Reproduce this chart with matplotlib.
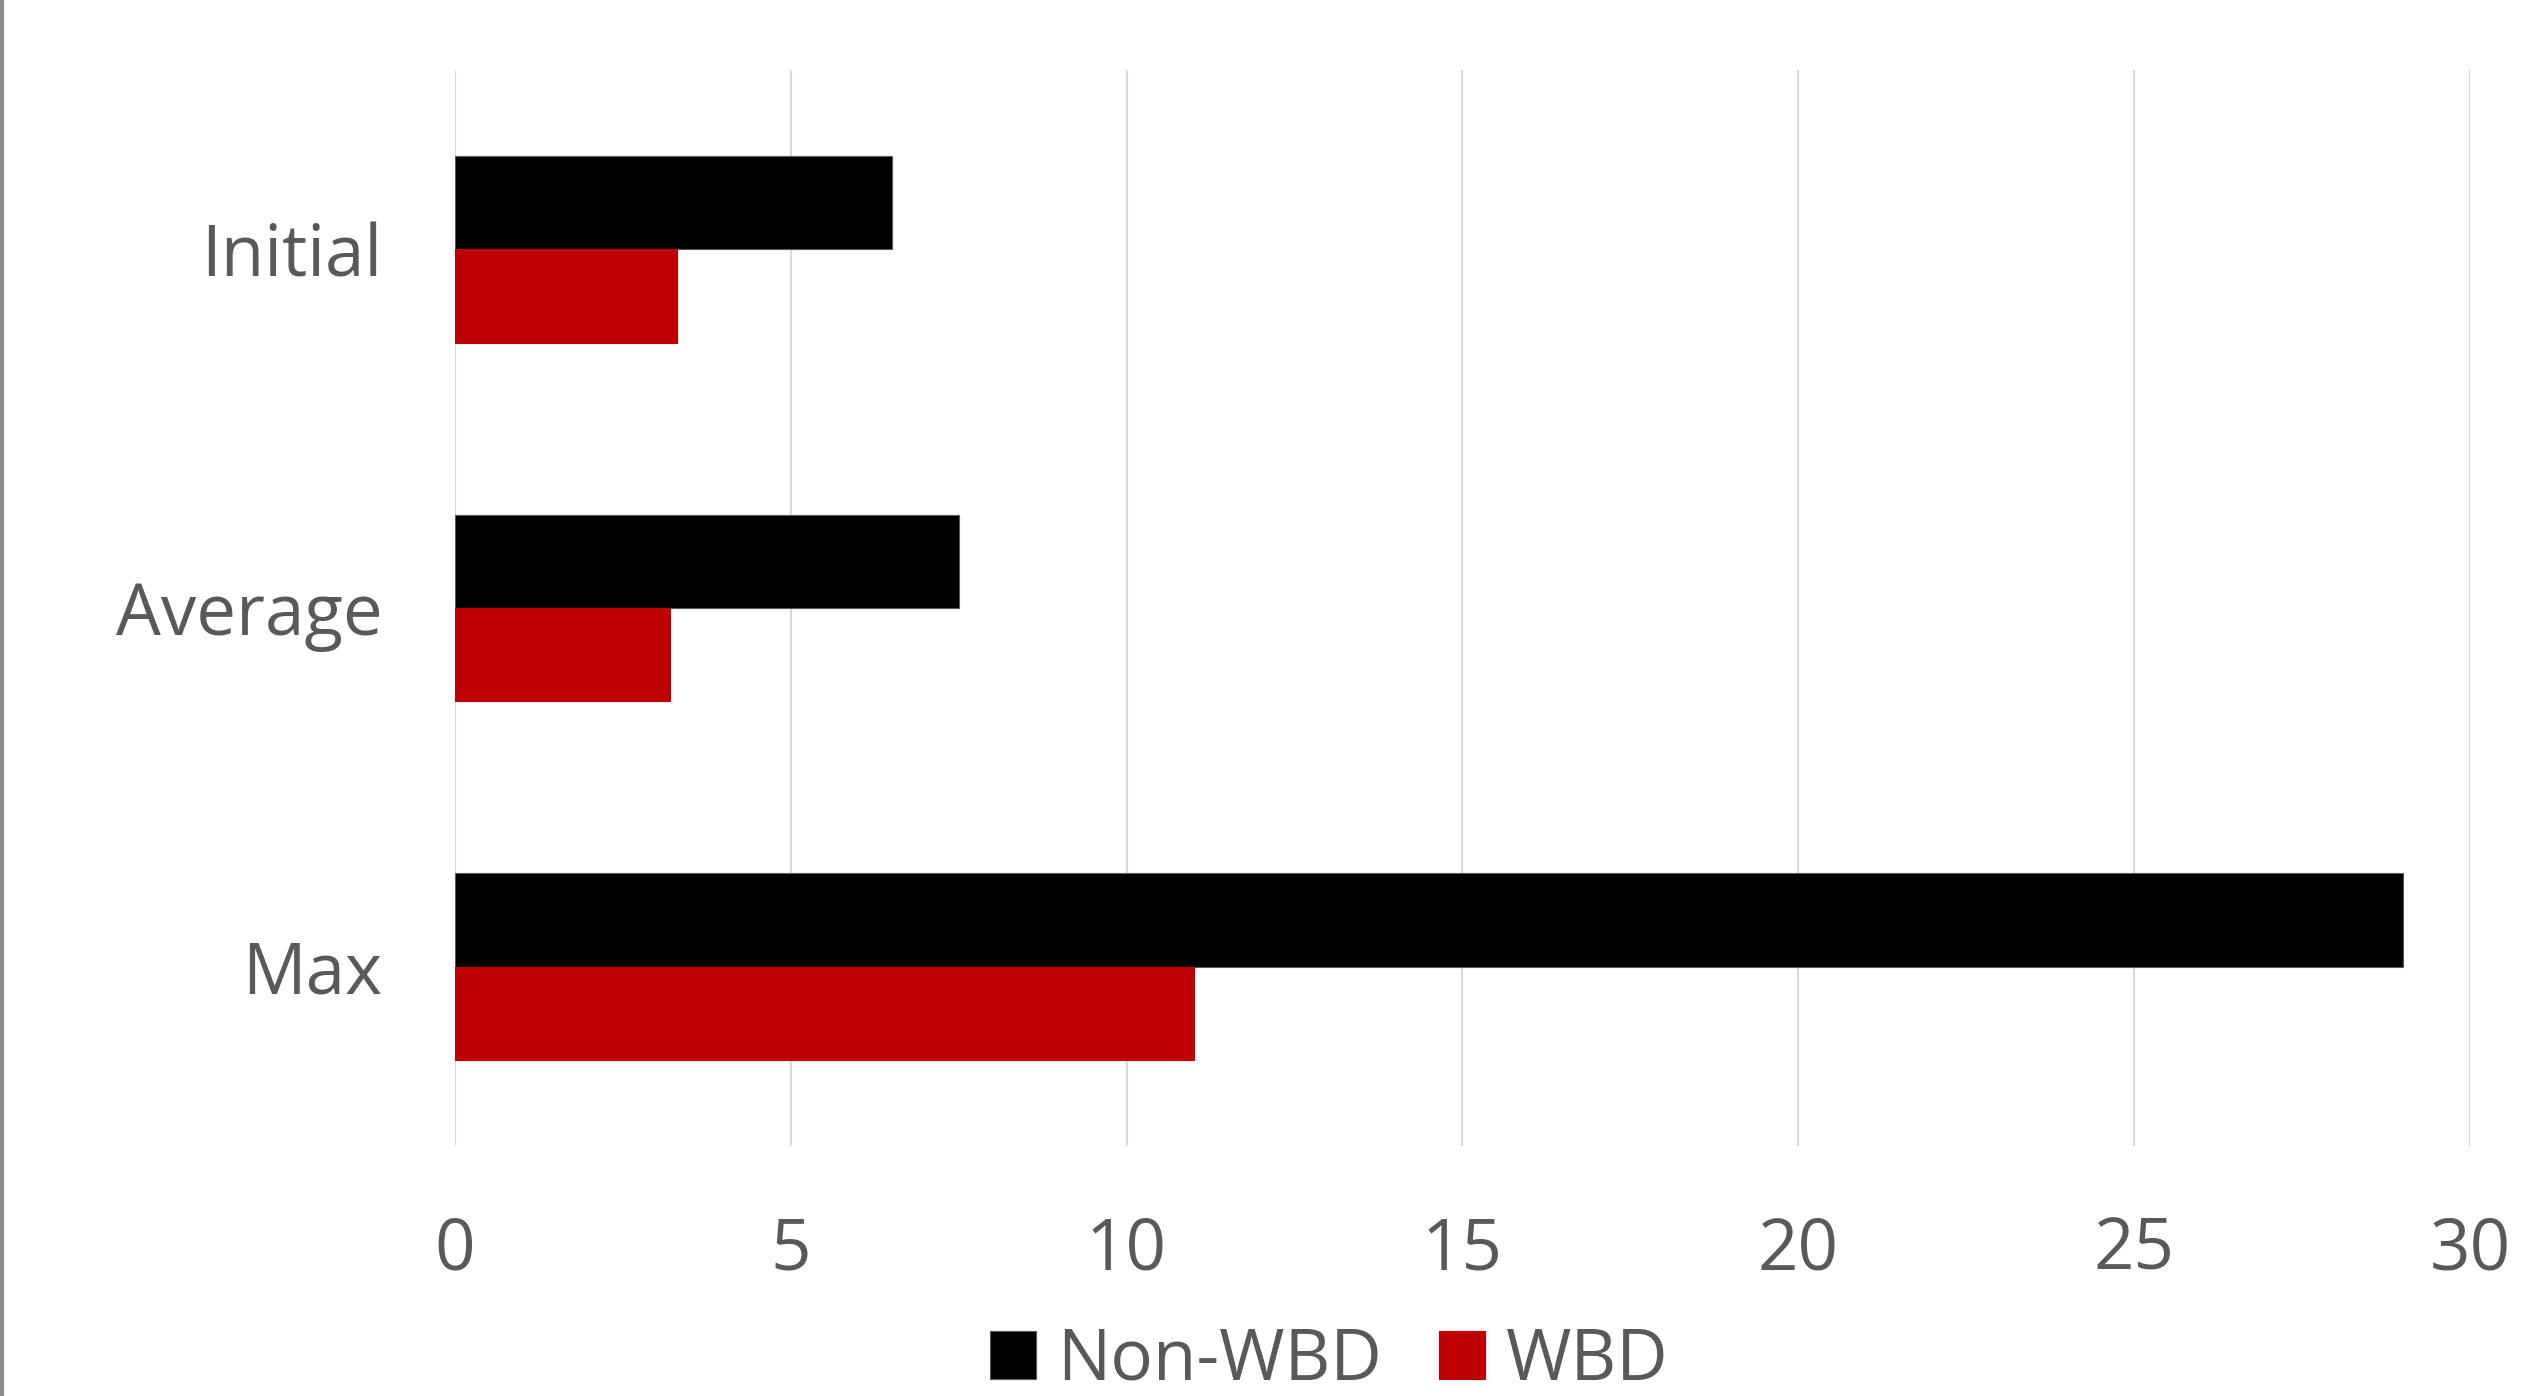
import numpy as np
import matplotlib.pyplot as plt
from matplotlib.lines import Line2D

# data
categories = ['Initial', 'Average', 'Max']
non_wbd = [6.5, 7.5, 29.0]
wbd = [3.3, 3.2, 11.0]
x_ticks = [0, 5, 10, 15, 20, 25, 30]

text_color = '#595959'
plt.rcParams['font.family'] = ['Open Sans', 'DejaVu Sans']

fig = plt.figure(figsize=(25.47, 13.96), dpi=100)
ax = fig.add_axes([0.1786, 0.1791, 0.7912, 0.7708])

y = np.arange(len(categories))
h = 0.26
ax.barh(y - h / 2, non_wbd, height=h, color='black', edgecolor='#5a5a5a', linewidth=0.8, label='Non-WBD', zorder=3)
ax.barh(y + h / 2, wbd, height=h, color='#c00000', edgecolor='#c00000', linewidth=0.8, label='WBD', zorder=3)

ax.set_ylim(len(categories) - 0.5, -0.5)
ax.set_xlim(0, 30)
ax.set_xticks(x_ticks)
ax.set_yticks(y)
ax.set_yticklabels(categories)
ax.tick_params(axis='both', length=0, labelsize=51, labelcolor=text_color)
ax.tick_params(axis='x', pad=50)
ax.tick_params(axis='y', pad=52)
ax.grid(axis='x', color='#d9d9d9', linewidth=1.6, zorder=0)
for s in ax.spines.values():
    s.set_visible(False)

# left chart border
fig.add_artist(Line2D([0.0008, 0.0008], [0, 1], transform=fig.transFigure, color='#8c8c8c', linewidth=3))

handles, labels = ax.get_legend_handles_labels()
fig.legend(handles, labels, loc='upper center', bbox_to_anchor=(0.522, 0.076), ncol=2, frameon=False,
           fontsize=51, labelcolor=text_color, handlelength=0.65, handleheight=0.65,
           handletextpad=0.3, columnspacing=0.8, borderpad=0)

fig.savefig('out.png', dpi=100)
